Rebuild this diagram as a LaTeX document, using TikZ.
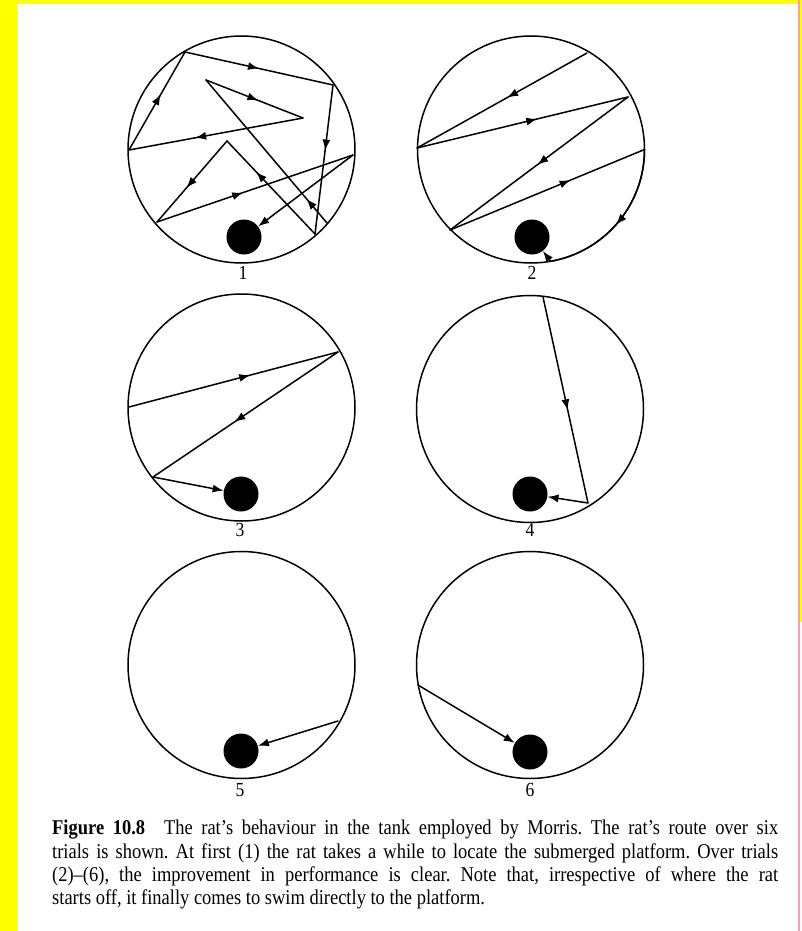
\documentclass[tikz,border=0pt]{standalone}
\usepackage{fontspec}
\setmainfont{Liberation Serif}[FakeStretch=0.88]
\usetikzlibrary{arrows.meta,decorations.markings}
\definecolor{hiyellow}{HTML}{FFFF00}
\definecolor{edgepink}{HTML}{F4A0B0}
\tikzset{
  every picture/.style={line join=round, line cap=round, >={Latex[length=11pt,width=8pt]}},
  tank/.style={draw, circle, line width=1.5pt, minimum size=227pt, inner sep=0pt},
  platform/.style={fill=black, circle, minimum size=35pt, inner sep=0pt},
  route/.style={line width=1.5pt},
  midarr/.style={postaction={decorate,decoration={markings,
      mark=at position #1 with {\arrow{Latex[length=11pt,width=8pt]}}}}},
  triallbl/.style={font=\fontsize{20}{20}\selectfont, inner sep=0pt},
  caption/.style={anchor=north west, inner sep=0pt, text width=726pt, align=justify,
      font=\fontsize{21}{23.4}\selectfont},
}

\begin{document}
\begin{tikzpicture}[x=1pt,y=-1pt]
\useasboundingbox (0,0) rectangle (802,931);
\fill[white] (0,0) rectangle (802,931);
\fill[hiyellow] (0,0) rectangle (17,931);
\fill[hiyellow] (0,0) rectangle (802,4);
\fill[hiyellow] (800,0) rectangle (802,622);
\fill[edgepink] (798,0) rectangle (799.5,931);

% tanks, platforms and trial numbers
\foreach \i/\x/\y in {1/241.5/149.5, 2/531/149.5, 3/241.5/407.5, 4/530/409, 5/241.5/665, 6/530/665}
  {\node[tank] (t\i) at (\x,\y) {};}
\foreach \i/\x/\y in {1/244/237, 2/532/237, 3/241/494, 4/530/494, 5/241/751, 6/530/752}
  {\node[platform] (p\i) at (\x,\y) {};}
\foreach \i/\x/\y in {1/243/273, 2/532/273, 3/240/530, 4/530/530, 5/240/790, 6/530/790}
  {\node[triallbl] (n\i) at (\x,\y) {\i};}

% trial 1
\coordinate (a1) at (327,223);
\coordinate (a2) at (206,80);
\coordinate (a3) at (303,118);
\coordinate (a4) at (129,150);
\coordinate (a5) at (185,52);
\coordinate (a6) at (333,85);
\coordinate (a7) at (315,234);
\coordinate (a8) at (227,141);
\coordinate (a9) at (157,222);
\coordinate (a10) at (353,155);
\foreach \s/\e/\t in {a1/a2/0.17, a2/a3/0.54, a3/a4/0.62, a4/a5/0.57, a5/a6/0.5,
    a6/a7/0.44, a7/a8/0.67, a8/a9/0.58, a9/a10/0.44}
  {\draw[route,midarr=\t] (\s) -- (\e);}
\draw[route,->] (a10) -- (p1);

% trial 2
\coordinate (b1) at (587,53);
\coordinate (b2) at (417,148);
\coordinate (b3) at (628,97);
\coordinate (b4) at (450,230);
\coordinate (b5) at (644.5,149.5);
\foreach \s/\e/\t in {b1/b2/0.47, b2/b3/0.57, b3/b4/0.51, b4/b5/0.62}
  {\draw[route,midarr=\t] (\s) -- (\e);}
\draw[route,midarr=0.52] (b5) arc[start angle=0, end angle=80, radius=113.5] coordinate (b6);
\draw[route,->] (b6) -- (p2);

% trial 3
\coordinate (c1) at (129,407);
\coordinate (c2) at (338,352);
\coordinate (c3) at (153,477);
\draw[route,midarr=0.58] (c1) -- (c2);
\draw[route,midarr=0.56] (c2) -- (c3);
\draw[route,->] (c3) -- (p3);

% trial 4
\coordinate (d1) at (543,297);
\coordinate (d2) at (588,503);
\draw[route,midarr=0.55] (d1) -- (d2);
\draw[route,->] (d2) -- (p4);

% trials 5 and 6
\coordinate (e1) at (338,721);
\draw[route,->] (e1) -- (p5);
\coordinate (f1) at (418,685);
\draw[route,->] (f1) -- (p6);

\node[caption] (cap) at (52,820) {\frenchspacing\textbf{Figure 10.8}\hspace{0.9em}The rat's behaviour in the tank employed by Morris. The rat's route over six\linebreak
  trials is shown. At first (1) the rat takes a while to locate the submerged platform. Over trials\linebreak
  (2)--(6), the improvement in performance is clear. Note that, irrespective of where the rat\linebreak
  starts off, it finally comes to swim directly to the platform.};
\end{tikzpicture}
\end{document}
